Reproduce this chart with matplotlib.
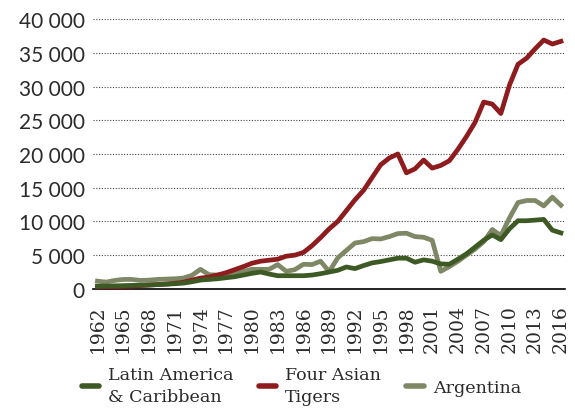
import numpy as np
import matplotlib
matplotlib.use("Agg")
from matplotlib import pyplot as plt
from matplotlib.ticker import FuncFormatter

years = list(range(1962, 2017))

latam = [400, 420, 450, 480, 510, 540, 580, 630, 690, 760,
         850, 1050, 1300, 1400, 1500, 1650, 1800, 2050, 2300, 2500,
         2200, 1950, 1950, 1950, 1950, 2050, 2250, 2500, 2750, 3250,
         3000, 3450, 3850, 4050, 4300, 4550, 4550, 3950, 4300, 4100,
         3700, 3650, 4400, 5200, 6200, 7200, 8000, 7300, 8900, 10100,
         10100, 10200, 10300, 8700, 8300]

tigers = [250, 280, 320, 370, 420, 490, 560, 640, 720, 830,
          990, 1300, 1600, 1750, 2050, 2400, 2850, 3300, 3800, 4100,
          4250, 4400, 4850, 5000, 5400, 6400, 7600, 8900, 10000, 11600,
          13200, 14600, 16500, 18400, 19400, 20000, 17200, 17800, 19100, 17900,
          18300, 19000, 20700, 22600, 24700, 27700, 27400, 26000, 30200, 33300,
          34200, 35600, 36900, 36300, 36700]

argentina = [1150, 1000, 1250, 1400, 1400, 1250, 1300, 1400, 1450, 1500,
             1600, 2000, 2900, 2100, 2050, 2150, 2350, 2600, 2900, 2900,
             2900, 3600, 2600, 2850, 3650, 3600, 4100, 2550, 4600, 5700,
             6800, 7000, 7450, 7400, 7750, 8200, 8250, 7750, 7650, 7200,
             2600, 3300, 4100, 5000, 5900, 7000, 8800, 7900, 10500, 12800,
             13100, 13100, 12300, 13600, 12400]

labels = ["Latin America\n& Caribbean", "Four Asian\nTigers", "Argentina"]
colors = ["#3d5a24", "#8e1b1e", "#7f8866"]

txt = "#2b2b2b"
fig = plt.figure(figsize=(5.75, 4.10), dpi=100)
ax = fig.add_axes([0.162, 0.293, 0.821, 0.658])

x = np.arange(len(years))
# argentina underneath, latin america on top
ax.plot(x, argentina, color=colors[2], lw=3.4, zorder=3)
ax.plot(x, tigers, color=colors[1], lw=3.4, zorder=4)
ax.plot(x, latam, color=colors[0], lw=3.4, zorder=5)

ax.set_xlim(-0.5, len(years) - 0.5)
ax.set_ylim(0, 40000)
ax.set_yticks(np.arange(0, 40001, 5000))
ax.yaxis.set_major_formatter(FuncFormatter(lambda v, p: f"{int(v):,}".replace(",", " ")))
ax.set_xticks(x[::3])
ax.set_xticklabels([str(y) for y in years[::3]], rotation=90)

ax.grid(axis="y", linestyle=(0, (1, 1.5)), color="#444444", lw=0.8)
ax.set_axisbelow(True)
for s in ["top", "right", "left"]:
    ax.spines[s].set_visible(False)
ax.spines["bottom"].set_color("black")
ax.spines["bottom"].set_linewidth(1.2)
ax.tick_params(length=0, labelcolor=txt)
for t in ax.get_yticklabels():
    t.set_fontsize(15)
    t.set_family("Lato")
for t in ax.get_xticklabels():
    t.set_fontsize(13.5)
    t.set_family("DejaVu Serif")
ax.tick_params(axis="y", pad=6)
ax.tick_params(axis="x", pad=11)

handles = [plt.Line2D([], [], color=c, lw=4, solid_capstyle="round") for c in colors]
leg = fig.legend(handles, labels, loc="upper left", bbox_to_anchor=(0.13, 0.122),
                 ncol=3, frameon=False, handlelength=1.0, handletextpad=0.5,
                 columnspacing=1.45, borderaxespad=0,
                 prop={"family": "DejaVu Serif", "size": 12.6})
for t in leg.get_texts():
    t.set_color(txt)
    t.set_linespacing(1.35)

fig.savefig("out.png", dpi=100)
